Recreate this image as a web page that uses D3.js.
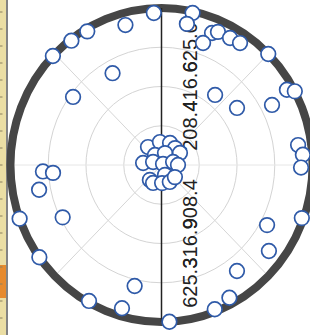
<!DOCTYPE html>
<html>
<head>
<meta charset="utf-8">
<script src="https://cdn.jsdelivr.net/npm/d3@7"></script>
<style>
  body { margin: 0; background: #fff; }
  svg { display: block; }
</style>
</head>
<body>
<script>
//Radial axis
var rMax = 833.3;
var radialTicks = [208.3, 416.7, 625.0];
var topLabels = ["208.4", "416.6", "625.0"];
var bottomLabels = ["908.4", "316.9", "625.3"];
var angleTicks = [0, 45, 90, 135, 180, 225, 270, 315];

//Points: angle in degrees (clockwise from top), radial value
var theta = [357, 12, 10.6, 345, 330, 323, 314, 331, 306.5, 21.7,
             23.8, 29.3, 33.8, 19.5, 45, 60, 62, 38.5, 54, 62.4,
             82, 86, 91, 110, 118.7, 127.6, 143.5, 152, 159, 177,
             193, 196, 209, 234, 243, 250, 259, 267, 266,
             322, 356, 22, 40, 58, 326, 17, 276, 289, 58,
             76, 90, 160, 219, 206, 178, 153, 131];
var radius = [808, 825, 762, 769, 819, 826, 833, 557, 607, 754,
              772, 773, 779, 687, 833, 799, 833, 475, 515, 688,
              761, 782, 770, 824, 664, 748, 700, 798, 820, 833,
              659, 791, 825, 833, 612, 833, 688, 655, 600,
              121, 122, 126, 117, 120, 64, 66, 102, 49, 10,
              66, 91, 56, 102, 106, 96, 101, 98];

var width = 310, height = 335;
var cx = 161.5, cy = 165;
var R = 157;
var kx = 0.962; //the photo is a little narrower than tall

var rScale = d3.scaleLinear().domain([0, rMax]).range([0, R]);

var svg = d3.select('body')
  .append('svg')
  .attr('width', width)
  .attr('height', height);

svg.append('rect')
  .attr('width', width)
  .attr('height', height)
  .attr('fill', '#fff');

//strip on the left edge
svg.append('rect')
  .attr('x', 0).attr('y', 0)
  .attr('width', 6).attr('height', height)
  .attr('fill', '#ebdea4');
svg.append('rect')
  .attr('x', 0).attr('y', 265)
  .attr('width', 6).attr('height', 33)
  .attr('fill', '#e68a2e');
svg.selectAll('.stripTick')
  .data(d3.range(12, 335, 17))
  .enter()
  .append('line')
  .attr('x1', 0).attr('x2', 2.5)
  .attr('y1', function (d) { return d; })
  .attr('y2', function (d) { return d; })
  .attr('stroke', '#8a8060')
  .attr('stroke-width', 1);
svg.append('line')
  .attr('x1', 7).attr('x2', 7)
  .attr('y1', 0).attr('y2', height)
  .attr('stroke', '#5a5a5a')
  .attr('stroke-width', 1.5);

var g = svg.append('g')
  .attr('transform', 'translate(' + cx + ',' + cy + ')');

function px(a, v) {
  return kx * rScale(v) * Math.sin(a * Math.PI / 180);
}
function py(a, v) {
  return -rScale(v) * Math.cos(a * Math.PI / 180);
}

//grid circles
g.selectAll('.grid')
  .data(radialTicks)
  .enter()
  .append('ellipse')
  .attr('rx', function (d) { return kx * rScale(d); })
  .attr('ry', function (d) { return rScale(d); })
  .attr('fill', 'none')
  .attr('stroke', '#d4d4d4')
  .attr('stroke-width', 1);

//spokes
g.selectAll('.spoke')
  .data(angleTicks)
  .enter()
  .append('line')
  .attr('x1', 0).attr('y1', 0)
  .attr('x2', function (d) { return px(d, rMax); })
  .attr('y2', function (d) { return py(d, rMax); })
  .attr('stroke', function (d) { return d % 90 === 0 ? '#e6e6e6' : '#d6d6d6'; })
  .attr('stroke-width', 1);

//outer ring
g.append('ellipse')
  .attr('rx', kx * R)
  .attr('ry', R)
  .attr('fill', 'none')
  .attr('stroke', '#464646')
  .attr('stroke-width', 8);

//radial axis line
g.append('line')
  .attr('x1', 0).attr('x2', 0)
  .attr('y1', -R).attr('y2', R)
  .attr('stroke', '#222')
  .attr('stroke-width', 1.5);

//tick labels, rotated along the axis
function addLabels(labels, sign) {
  g.selectAll('.lab' + sign)
    .data(radialTicks)
    .enter()
    .append('text')
    .attr('transform', function (d) {
      return 'translate(35,' + (sign * rScale(d)) + ') rotate(-90)';
    })
    .attr('text-anchor', 'middle')
    .attr('font-family', 'Liberation Sans, Arial, sans-serif')
    .attr('font-size', '20px')
    .attr('fill', '#222')
    .text(function (d, i) { return labels[i]; });
}
addLabels(topLabels, -1);
addLabels(bottomLabels, 1);

//points
var pts = d3.range(theta.length);
g.selectAll('circle.pt')
  .data(pts)
  .enter()
  .append('circle')
  .attr('class', 'pt')
  .attr('cx', function (i) { return px(theta[i], radius[i]); })
  .attr('cy', function (i) { return py(theta[i], radius[i]); })
  .attr('r', 7.3)
  .attr('fill', '#fff')
  .attr('stroke', '#2f5aa8')
  .attr('stroke-width', 1.7);
</script>
</body>
</html>
